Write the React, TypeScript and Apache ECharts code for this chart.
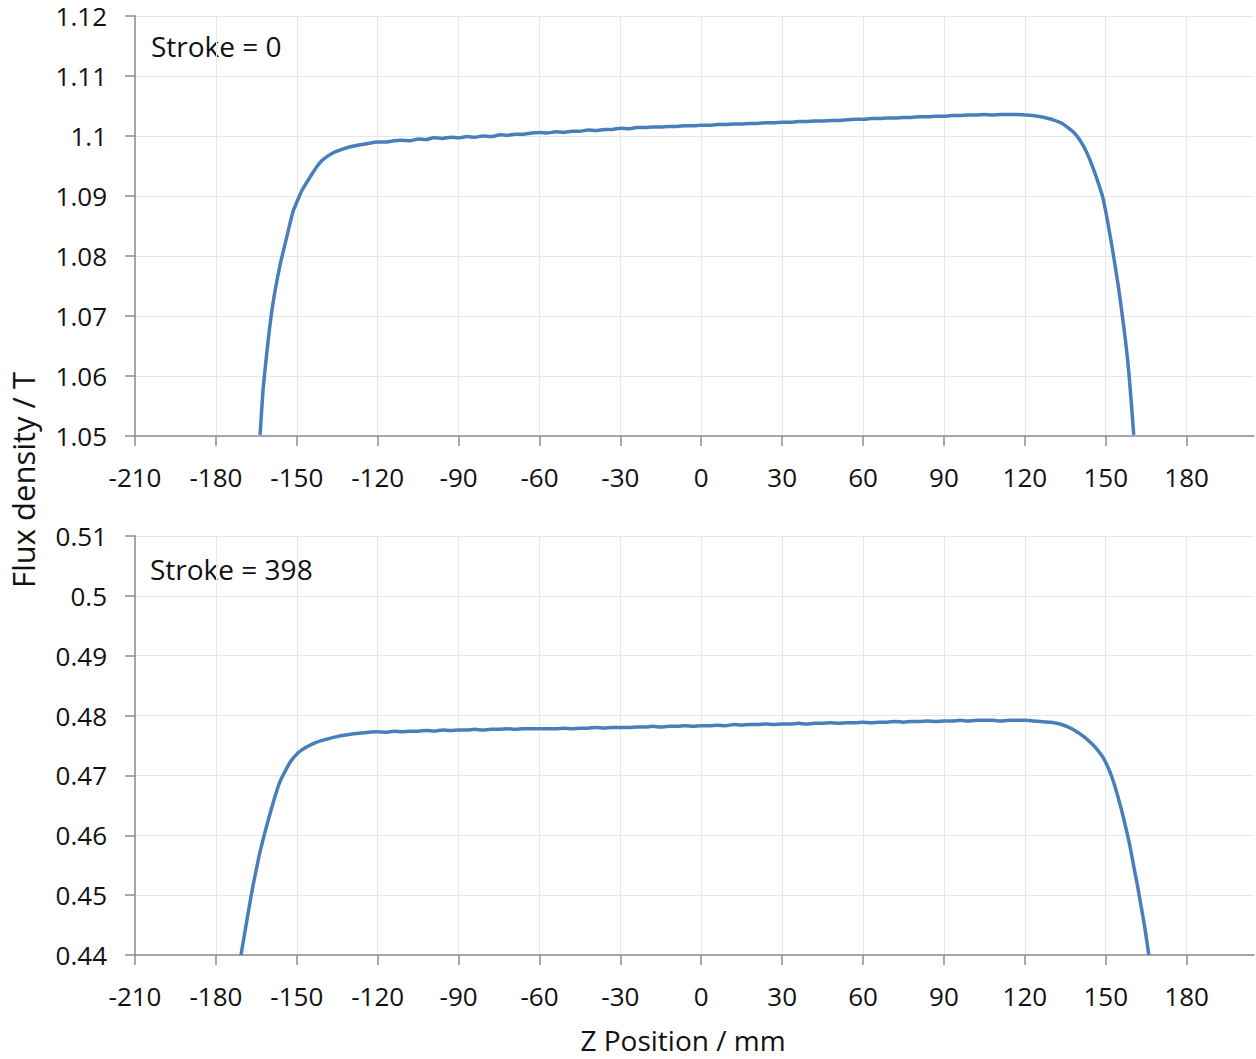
import React, { useEffect, useRef } from "react";
import * as echarts from "echarts";

// X tick labels (mm)
const X_TICKS = [-210, -180, -150, -120, -90, -60, -30, 0, 30, 60, 90, 120, 150, 180];

// Stroke = 0 : Z position (mm) and flux density (T)
const Z_TOP = [
  -163.6, -162.5, -160.6, -158.8, -156.2, -153.6, -151.4, -149.5, -148.0, -145.0,
  -142.4, -140.2, -136.5, -133, -130.2, -127, -124, -120.2, -117, -114,
  -111.6, -108, -105, -102, -99.4, -96, -93, -90, -86.8, -84,
  -81, -78, -74.5, -72, -69, -66, -63, -60, -57, -54,
  -51, -48, -45, -42, -39, -36, -33, -30, -27, -24,
  -21, -18, -15, -12, -9, -6, -3, 0, 3, 6,
  9, 12, 15, 18, 21, 24, 27, 30, 33, 36,
  39, 42, 45, 48, 51, 54, 57, 60, 63, 66,
  69, 72, 75, 78, 81, 84, 87, 90, 93, 96,
  99, 102, 105, 108, 111, 114, 117, 120, 123, 125.9,
  128, 130.5, 133.4, 136, 138.2, 140, 141.9, 143.8, 145.6, 147.3,
  148.9, 150.4, 151.9, 153.2, 154.5, 155.6, 156.7, 157.7, 158.6, 159.5,
  160.4,
];
const B_TOP = [
  1.0502, 1.0578, 1.0660, 1.0722, 1.0785, 1.0834, 1.0874, 1.0895, 1.0910, 1.0932,
  1.0950, 1.0961, 1.0972, 1.0978, 1.0982, 1.0985, 1.0987, 1.0990, 1.0990, 1.0992,
  1.0993, 1.0992, 1.0995, 1.0994, 1.0997, 1.0996, 1.0998, 1.0997, 1.0999, 1.0998,
  1.1000, 1.0999, 1.1002, 1.1001, 1.1003, 1.1003, 1.1005, 1.1006, 1.1005, 1.1007,
  1.1006, 1.1008, 1.1008, 1.1010, 1.1009, 1.1011, 1.1011, 1.1013, 1.1012, 1.1014,
  1.1014, 1.1015, 1.1015, 1.1016, 1.1016, 1.1017, 1.1017, 1.1018, 1.1018, 1.1019,
  1.1019, 1.1020, 1.1020, 1.1021, 1.1021, 1.1022, 1.1022, 1.1023, 1.1023, 1.1024,
  1.1024, 1.1025, 1.1025, 1.1026, 1.1026, 1.1027, 1.1028, 1.1028, 1.1029, 1.1029,
  1.1030, 1.1030, 1.1031, 1.1031, 1.1032, 1.1032, 1.1033, 1.1033, 1.1034, 1.1034,
  1.1035, 1.1035, 1.1036, 1.1035, 1.1036, 1.1036, 1.1036, 1.1035, 1.1034, 1.1032,
  1.1030, 1.1027, 1.1022, 1.1014, 1.1006, 1.0996, 1.0982, 1.0964, 1.0943, 1.0921,
  1.0898, 1.0865, 1.0827, 1.0792, 1.0755, 1.0720, 1.0682, 1.0645, 1.0605, 1.0555,
  1.0502,
];

// Stroke = 398 : Z position (mm) and flux density (T)
const Z_BOT = [
  -170.7, -168.5, -166.4, -164, -161.7, -158.8, -156.2, -152.5, -149.5, -146.2,
  -143, -140.2, -136, -131.3, -126, -120.2, -117, -114, -111, -108,
  -105, -102, -99, -96, -93, -90, -87, -84, -81, -78,
  -75, -72, -69, -66, -63, -60, -57, -54, -51, -48,
  -45, -42, -39, -36, -33, -30, -27, -24, -21, -18,
  -15, -12, -9, -6, -3, 0, 3, 6, 9, 12,
  15, 18, 21, 24, 27, 30, 33, 36, 39, 42,
  45, 48, 51, 54, 57, 60, 63, 66, 69, 72,
  75, 78, 81, 84, 87, 90, 93, 96, 99, 102,
  105, 108, 111, 114, 117, 120, 123, 126, 129.6, 133,
  136, 139, 141.9, 144.6, 147.1, 149, 150.8, 152.7, 154.5, 156,
  157.5, 159, 160.4, 161.7, 163.0, 164.5, 166.0,
];
const B_BOT = [
  0.4400, 0.4458, 0.4512, 0.4565, 0.4607, 0.4654, 0.4690, 0.4722, 0.4738, 0.4748,
  0.4755, 0.4759, 0.4764, 0.4768, 0.4771, 0.4773, 0.4772, 0.4774, 0.4773, 0.4774,
  0.4774, 0.4775, 0.4774, 0.4776, 0.4775, 0.4776, 0.4776, 0.4777, 0.4776, 0.4777,
  0.4777, 0.4778, 0.4777, 0.4778, 0.4778, 0.4778, 0.4778, 0.4778, 0.4779, 0.4778,
  0.4779, 0.4779, 0.4780, 0.4779, 0.4780, 0.4780, 0.4780, 0.4781, 0.4781, 0.4782,
  0.4781, 0.4782, 0.4782, 0.4783, 0.4782, 0.4783, 0.4783, 0.4784, 0.4783, 0.4785,
  0.4784, 0.4785, 0.4785, 0.4786, 0.4785, 0.4786, 0.4786, 0.4787, 0.4786, 0.4787,
  0.4787, 0.4788, 0.4787, 0.4788, 0.4788, 0.4789, 0.4788, 0.4789, 0.4789, 0.4790,
  0.4789, 0.4790, 0.4790, 0.4791, 0.4790, 0.4791, 0.4791, 0.4792, 0.4791, 0.4792,
  0.4792, 0.4792, 0.4791, 0.4792, 0.4792, 0.4792, 0.4791, 0.4790, 0.4789, 0.4786,
  0.4781, 0.4774, 0.4765, 0.4754, 0.4742, 0.4730, 0.4714, 0.4692, 0.4665, 0.4640,
  0.4612, 0.4582, 0.4548, 0.4518, 0.4485, 0.4446, 0.4400,
];

const FONT = "Open Sans";
const LINE_COLOR = "#4a7ebb";
const AXIS_COLOR = "#8c8c8c";
const GRID_COLOR = "#e3e8f1";

function xAxisDef(gridIndex: number) {
  return {
    type: "value",
    gridIndex,
    min: -210,
    max: 205,
    interval: 30,
    axisLine: { show: true, onZero: false, lineStyle: { color: AXIS_COLOR, width: 1.5 } },
    axisTick: { show: true, length: 10, customValues: X_TICKS, lineStyle: { color: AXIS_COLOR, width: 1.5 } },
    axisLabel: {
      customValues: X_TICKS,
      margin: 28,
      fontSize: 26,
      fontFamily: FONT,
      color: "#111",
    },
    splitLine: { show: true, lineStyle: { color: GRID_COLOR, width: 1 } },
  };
}

function yAxisDef(gridIndex: number, min: number, max: number) {
  return {
    type: "value",
    gridIndex,
    min,
    max,
    interval: 0.01,
    axisLine: { show: true, onZero: false, lineStyle: { color: AXIS_COLOR, width: 1.5 } },
    axisTick: { show: true, length: 10, lineStyle: { color: AXIS_COLOR, width: 1.5 } },
    axisLabel: {
      margin: 28,
      fontSize: 26,
      fontFamily: FONT,
      color: "#111",
      formatter: (v: number) => String(parseFloat(v.toFixed(2))),
    },
    splitLine: { show: true, lineStyle: { color: GRID_COLOR, width: 1 } },
  };
}

export default function App() {
  const ref = useRef<HTMLDivElement>(null);
  useEffect(() => {
    if (!ref.current) return;
    const chart = echarts.init(ref.current, null, { renderer: "svg" });
    const topData = Z_TOP.map((z, i) => [z, B_TOP[i]]);
    const botData = Z_BOT.map((z, i) => [z, B_BOT[i]]);
    chart.setOption({
      animation: false,
      backgroundColor: "#ffffff",
      grid: [
        { left: 135, top: 16, width: 1119, height: 420 },
        { left: 135, top: 536, width: 1119, height: 419 },
      ],
      xAxis: [xAxisDef(0), xAxisDef(1)],
      yAxis: [yAxisDef(0, 1.05, 1.12), yAxisDef(1, 0.44, 0.51)],
      series: [
        {
          type: "line",
          xAxisIndex: 0,
          yAxisIndex: 0,
          data: topData,
          showSymbol: false,
          smooth: 0.15,
          lineStyle: { color: LINE_COLOR, width: 3.5 },
          itemStyle: { color: LINE_COLOR },
        },
        {
          type: "line",
          xAxisIndex: 1,
          yAxisIndex: 1,
          data: botData,
          showSymbol: false,
          smooth: 0.15,
          lineStyle: { color: LINE_COLOR, width: 3.5 },
          itemStyle: { color: LINE_COLOR },
        },
      ],
      graphic: [
        {
          type: "text",
          left: 151,
          top: 32,
          style: { text: "Stroke = 0", fontSize: 28, fontFamily: FONT, fill: "#111" },
        },
        {
          type: "text",
          left: 150,
          top: 555,
          style: { text: "Stroke = 398", fontSize: 28, fontFamily: FONT, fill: "#111" },
        },
        {
          type: "text",
          x: 23,
          y: 480,
          rotation: Math.PI / 2,
          style: {
            text: "Flux density / T",
            fontSize: 31,
            fontFamily: FONT,
            fill: "#111",
            align: "center",
            verticalAlign: "middle",
          },
        },
        {
          type: "text",
          x: 683,
          y: 1040,
          style: {
            text: "Z Position / mm",
            fontSize: 28,
            fontFamily: FONT,
            fill: "#111",
            align: "center",
            verticalAlign: "middle",
          },
        },
      ],
    });
    return () => chart.dispose();
  }, []);
  return (
    <div
      ref={ref}
      style={{ position: "absolute", left: 0, top: 0, width: 1256, height: 1059, background: "#fff" }}
    />
  );
}
